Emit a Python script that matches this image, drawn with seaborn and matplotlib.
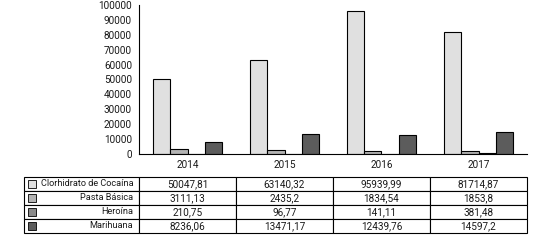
import pandas as pd
import seaborn as sns
import matplotlib.pyplot as plt
from matplotlib.patches import Rectangle

# datos
anios = ["2014", "2015", "2016", "2017"]
tipos = ["Clorhidrato de Cocaína", "Pasta Básica", "Heroína", "Marihuana"]
cocaina = [50047.81, 63140.32, 95939.99, 81714.87]
pasta = [3111.13, 2435.2, 1834.54, 1853.8]
heroina = [210.75, 96.77, 141.11, 381.48]
marihuana = [8236.06, 13471.17, 12439.76, 14597.2]
colores = ["#e0e0e0", "#b4b4b4", "#8a8a8a", "#5c5c5c"]

valores = [cocaina, pasta, heroina, marihuana]
filas = []
for t, vals in zip(tipos, valores):
    for a, v in zip(anios, vals):
        filas.append({"anio": a, "valor": v, "tipo": t})
df = pd.DataFrame(filas)

sns.set_style("white")
plt.rcParams["font.family"] = ["Roboto", "DejaVu Sans"]
fs = 7.2

fig = plt.figure(figsize=(5.47, 2.41), dpi=100)
ax = fig.add_axes([139/547, 1-154/241, 388/547, 149/241])

sns.barplot(data=df, x="anio", y="valor", hue="tipo", palette=colores,
            edgecolor="black", linewidth=0.8, width=0.72, legend=False, ax=ax)

ax.set_ylim(0, 100000)
ax.set_xlim(-0.5, 3.5)
ax.set_yticks(range(0, 100001, 10000))
ax.tick_params(axis="y", labelsize=fs, length=3, width=0.8, pad=2, labelcolor="#1a1a1a")
ax.tick_params(axis="x", labelsize=fs, length=0, pad=4, labelcolor="#1a1a1a")
ax.set_xticks([-0.5, 0.5, 1.5, 2.5, 3.5], minor=True)
ax.tick_params(axis="x", which="minor", length=3, width=0.8, direction="out")
ax.set_xlabel("")
ax.set_ylabel("")
sns.despine(ax=ax)
for s in ["left", "bottom"]:
    ax.spines[s].set_linewidth(0.8)
    ax.spines[s].set_color("black")

# tabla de datos
texto = [[t] + [str(v).replace(".", ",") for v in vals] for t, vals in zip(tipos, valores)]
tabla = ax.table(cellText=texto, cellLoc="center",
                 colWidths=[115, 97, 97, 97, 97],
                 bbox=[(24-139)/388, (154-233)/149, 503/388, 56/149])
tabla.auto_set_font_size(False)
tabla.set_fontsize(fs)
for (r, c), celda in tabla.get_celld().items():
    celda.set_linewidth(0.8)
    celda.get_text().set_color("#1a1a1a")
    if c == 0:
        celda.get_text().set_ha("right")
        celda.get_text().set_fontsize(6.6)
        celda.PAD = 0.05

# cuadritos de leyenda
for i, col in enumerate(colores):
    y = 1 - (177 + 14*i + 3)/241
    fig.add_artist(Rectangle((28/547, y - 8/241), 8/547, 8/241,
                             facecolor=col, edgecolor="black", linewidth=0.6,
                             transform=fig.transFigure))

fig.savefig("out.png", dpi=100)
